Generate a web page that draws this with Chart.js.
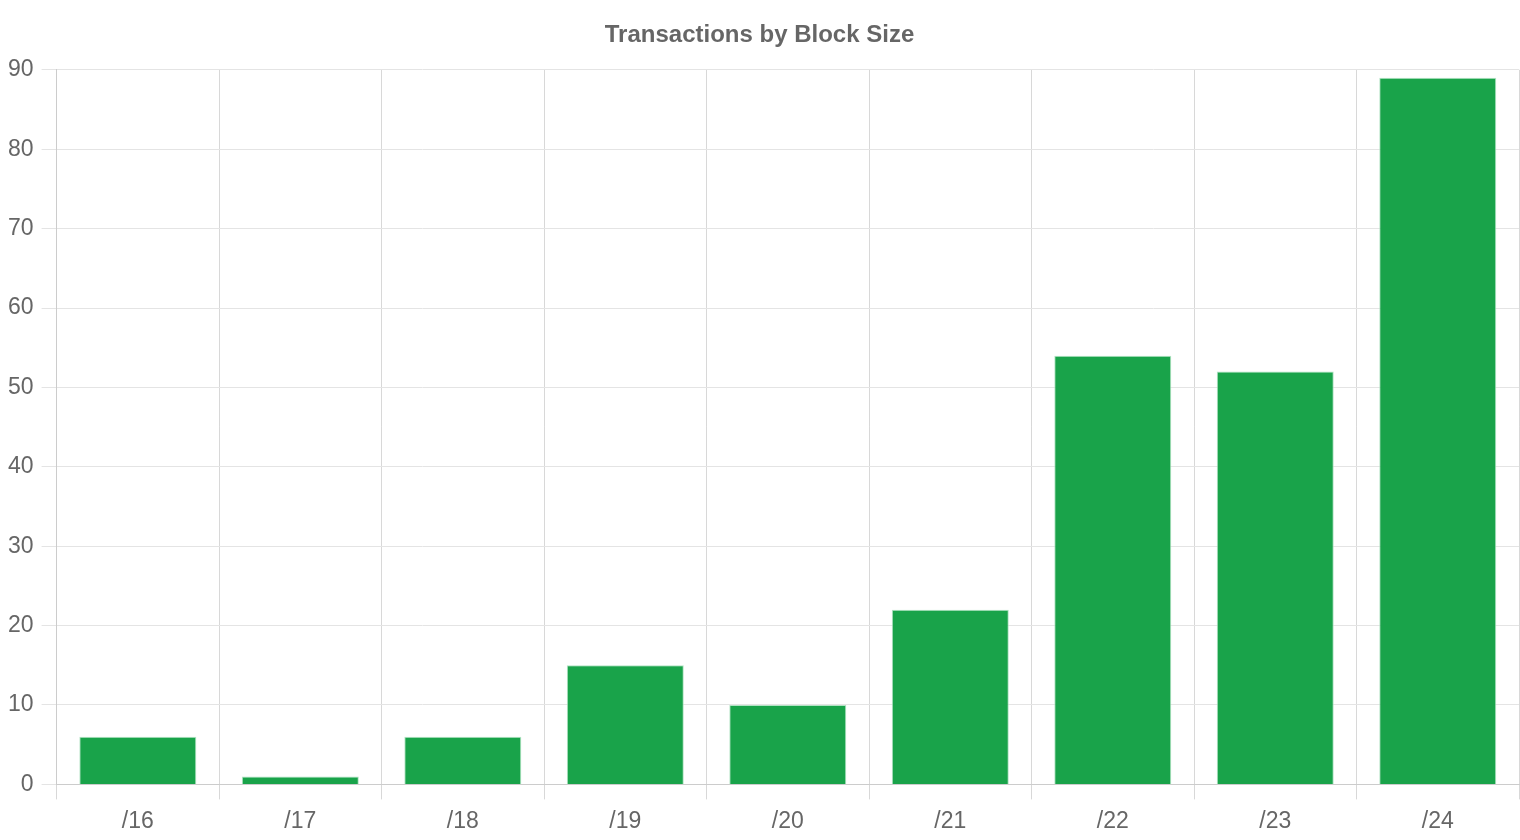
<!DOCTYPE html>
<html>
<head>
<meta charset="UTF-8">
<script src="https://cdn.jsdelivr.net/npm/chart.js@4/dist/chart.umd.min.js"></script>
<style>
  html, body { margin: 0; padding: 0; background: #fff; }
  #wrap { width: 1520px; height: 840px; }
</style>
</head>
<body>
<div id="wrap"><canvas id="blockChart" width="1520" height="840"></canvas></div>
<script>
// chart data
const categories = ['/16', '/17', '/18', '/19', '/20', '/21', '/22', '/23', '/24'];
const transactions = [6, 1, 6, 15, 10, 22, 54, 52, 89];
const yTicks = [0, 10, 20, 30, 40, 50, 60, 70, 80, 90];

Chart.defaults.font.family = '"Liberation Sans", Arial, sans-serif';
Chart.defaults.color = '#666';

const chart = new Chart(document.getElementById('blockChart'), {
    type: 'bar',
    data: {
        labels: categories,
        datasets: [{
            label: 'Transactions',
            data: transactions,
            backgroundColor: '#19a34a',
            borderColor: 'rgba(170,225,190,0.9)',
            borderWidth: 1
        }]
    },
    options: {
        responsive: false,
        devicePixelRatio: 1,
        animation: false,
        layout: { padding: { left: 0, right: 1, top: 0, bottom: -3 } },
        plugins: {
            legend: { display: false },
            tooltip: { enabled: false },
            title: {
                display: true,
                text: 'Transactions by Block Size',
                color: '#666',
                font: { size: 24, weight: 'bold' },
                padding: { top: 21, bottom: 20 }
            }
        },
        scales: {
            x: {
                grid: { color: '#d8d8d8', tickLength: 15 },
                border: { color: '#ccc' },
                ticks: { font: { size: 23 }, color: '#666', padding: 8 }
            },
            y: {
                min: 0,
                max: 90,
                afterBuildTicks: axis => { axis.ticks = yTicks.map(v => ({ value: v })); },
                grid: { color: '#e4e4e4', tickLength: 15 },
                border: { color: '#ccc' },
                ticks: { font: { size: 23 }, color: '#666', padding: 8 }
            }
        }
    }
});
</script>
</body>
</html>
